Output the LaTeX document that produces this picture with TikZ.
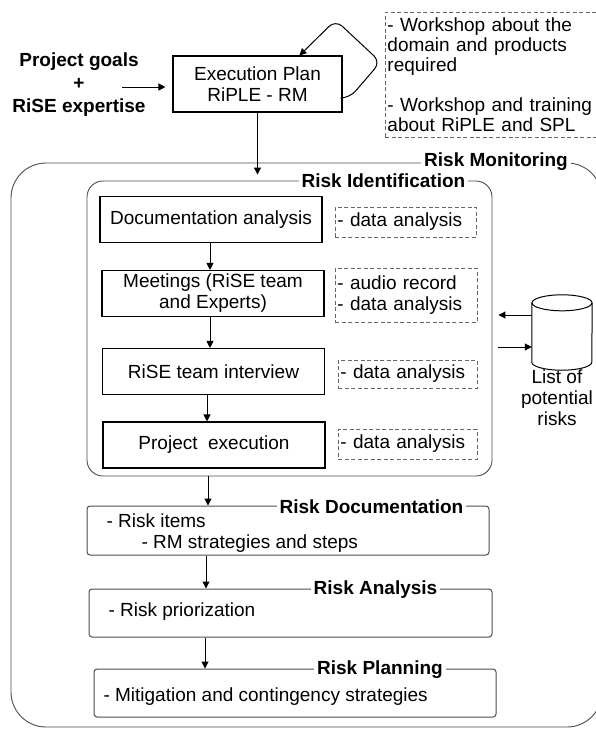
\documentclass[tikz,border=0pt]{standalone}
\usepackage{fontspec}
\setmainfont{Liberation Sans}
\usetikzlibrary{arrows.meta,fit,calc,positioning}

\tikzset{
  arr/.style={-{Triangle[length=7pt,width=7pt]}, line width=1pt},
  stepbox/.style={draw, line width=1.1pt, minimum width=222pt, minimum height=46pt, align=center},
  note/.style={draw=black!60, dash pattern=on 4pt off 2.5pt, line width=0.9pt, align=left, anchor=west, inner xsep=2pt},
  frame/.style={draw=black!70, line width=0.9pt, rounded corners=#1, inner sep=0pt},
  ttl/.style={fill=white, font=\fontsize{19}{21}\selectfont\bfseries, inner sep=3pt},
  stage/.style={draw=black!70, line width=1pt, rounded corners=3pt, inner sep=0pt}
}

\begin{document}
\begin{tikzpicture}[x=1pt,y=-1pt,font=\fontsize{19}{21}\selectfont]
  \useasboundingbox (0,0) rectangle (596,729);

  % input and execution plan
  \node[align=center, font=\fontsize{19}{23}\selectfont\bfseries] (goals) at (79,85) {Project goals\\+\\RiSE expertise};
  \coordinate (gin) at (122,87);
  \node[stepbox, minimum width=169pt, minimum height=56pt] (plan) at (257.5,84) {Execution Plan\\RiPLE - RM};
  \node[note, text width=221pt, minimum height=125pt, font=\fontsize{19}{20}\selectfont] (ws) at (385,74.5)
    {- Workshop about the\\domain and products\\required\\[20pt]- Workshop and training\\about RiPLE and SPL};

  \draw[arr, shorten >=7pt] (gin) -- (gin -| plan.west);
  \draw[arr, rounded corners=9pt] ([yshift=-14pt]plan.east) -- ++(7,0) -- ++(31,-36) -- ++(-45,-42) -- ([xshift=42pt]plan.north);

  % monitoring and identification frames
  \node[frame=35pt, fit={(11,163) (602,727)}] (mon) {};
  \node[frame=16pt, fit={(87,181) (492,476)}] (ident) {};
  \node[ttl] (monttl) at (496,162) {Risk Monitoring};
  \node[ttl] (identttl) at (383.5,181) {Risk Identification};

  \draw[arr, shorten >=6pt] (plan.south) -- (plan.south |- ident.north);

  % identification steps
  \node[stepbox] (docana) at (211,219.5) {Documentation analysis};
  \node[stepbox] (meet) at (213,293.5) {Meetings (RiSE team\\and Experts)};
  \node[stepbox] (intv) at (213.5,371.5) {RiSE team interview};
  \node[stepbox] (exec) at (214,445) {Project\ \ execution};

  \node[note, text width=137pt, minimum height=30pt] (n1) at (335,222) {- data analysis};
  \node[note, text width=138pt, minimum height=54pt] (n2) at (335,295) {- audio record\\- data analysis};
  \node[note, text width=135pt, minimum height=28pt] (n3) at (338,374) {- data analysis};
  \node[note, text width=135pt, minimum height=30pt] (n4) at (338,444) {- data analysis};

  \draw[arr] ([xshift=-1pt]docana.south) -- ([xshift=-3pt]meet.north);
  \draw[arr] ([xshift=-3pt]meet.south) -- ([xshift=-3.5pt]intv.north);
  \draw[arr] ([xshift=-6.5pt]intv.south) -- ([xshift=-7pt]exec.north);

  % risk list
  \node[minimum width=60pt, minimum height=75pt, inner sep=0pt] (pool) at (562,332.5) {};
  \draw[line width=1pt] ([yshift=-8pt]pool.north) ellipse[x radius=30pt, y radius=8pt];
  \draw[line width=1pt] ([yshift=-8pt]pool.north west) -- ([yshift=8pt]pool.south west)
    arc[start angle=180, end angle=360, x radius=30pt, y radius=8pt] -- ([yshift=-8pt]pool.north east);
  \node[align=center, below=-4pt of pool, xshift=-5pt] (poollbl) {List of\\potential\\risks};
  \draw[arr, shorten >=6pt] ([yshift=17.5pt]pool.west) -- ([yshift=17.5pt]pool.west -| ident.east);
  \draw[arr, shorten <=6pt] ([yshift=-14.5pt]pool.west -| ident.east) -- ([yshift=-14.5pt]pool.west);

  % documentation, analysis, planning
  \node[stage, fit={(87,506) (489,555)}] (rdoc) {};
  \node[stage, fit={(89,589) (492,637)}] (rana) {};
  \node[stage, fit={(94,669) (496,717)}] (rplan) {};
  \node[ttl] (rdocttl) at (371.5,507) {Risk Documentation};
  \node[ttl] (ranattl) at (375.5,590) {Risk Analysis};
  \node[ttl] (rplanttl) at (380,670) {Risk Planning};
  \node[anchor=west, align=left] (rdoctxt) at (103,533) {- Risk items\\\hspace*{35pt}- RM strategies and steps};
  \node[anchor=west] (ranatxt) at (105,612) {- Risk priorization};
  \node[anchor=west] (rplantxt) at (100,697) {- Mitigation and contingency strategies};

  \draw[arr] ([xshift=-81.5pt]ident.south) -- ([xshift=-80pt]rdoc.north);
  \draw[arr] ([xshift=-82pt]rdoc.south) -- ([xshift=-84.5pt]rana.north);
  \draw[arr] ([xshift=-85.5pt]rana.south) -- ([xshift=-90pt]rplan.north);
\end{tikzpicture}
\end{document}
